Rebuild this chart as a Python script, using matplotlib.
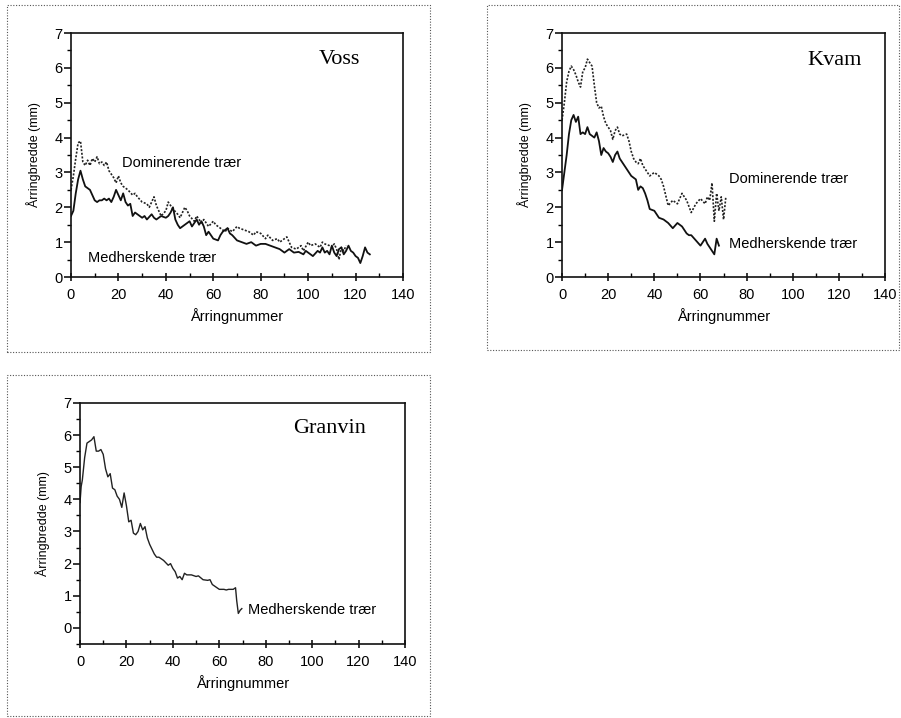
import matplotlib
matplotlib.use("Agg")
import matplotlib.pyplot as plt
from matplotlib.patches import Rectangle
from matplotlib.ticker import MultipleLocator

plt.rcParams['font.family'] = ['Liberation Sans', 'DejaVu Sans']

# --- Voss ---
voss_dom_year = [0, 1, 2, 3, 4, 5, 6, 7, 8, 9, 10, 11, 12, 13, 14, 15, 16, 17, 18, 19,
                 20, 21, 22, 24, 26, 27, 28, 30, 32, 33, 35, 36, 37, 38, 40, 41, 42, 43,
                 45, 46, 48, 49, 50, 52, 53, 55, 56, 58, 60, 61, 63, 65, 66, 68, 70, 71,
                 73, 75, 77, 78, 80, 82, 83, 85, 87, 88, 90, 91, 93, 95, 97, 98, 100, 101,
                 103, 105, 106, 107, 109, 110, 111, 112, 113, 114, 115, 116]
voss_dom = [2.5, 2.9, 3.4, 3.85, 3.9, 3.3, 3.2, 3.35, 3.2, 3.4, 3.3, 3.45, 3.25, 3.3, 3.2,
            3.3, 3.05, 2.95, 2.85, 2.7, 2.9, 2.7, 2.6, 2.5, 2.35, 2.4, 2.3, 2.15, 2.1, 2.0,
            2.3, 2.05, 1.9, 1.75, 1.9, 2.15, 2.05, 1.95, 1.8, 1.7, 2.0, 1.9, 1.75, 1.6,
            1.75, 1.55, 1.65, 1.45, 1.6, 1.5, 1.4, 1.3, 1.4, 1.3, 1.45, 1.4, 1.35, 1.3, 1.2,
            1.3, 1.25, 1.1, 1.2, 1.05, 1.1, 1.0, 1.1, 1.15, 0.85, 0.8, 0.9, 0.75, 1.0, 0.9,
            0.95, 0.85, 1.0, 0.95, 0.9, 0.85, 0.95, 0.8, 0.5, 0.85, 0.75, 0.9]

voss_sup_year = [0, 1, 2, 3, 4, 5, 6, 7, 8, 9, 10, 11, 12, 13, 14, 15, 16, 17, 18, 19, 20,
                 21, 22, 23, 24, 25, 26, 27, 28, 30, 31, 32, 34, 35, 36, 38, 40, 41, 42, 43,
                 44, 45, 46, 47, 48, 50, 51, 52, 53, 54, 55, 56, 57, 58, 59, 60, 62, 63, 64,
                 65, 66, 67, 68, 70, 72, 74, 76, 77, 78, 80, 82, 84, 86, 88, 90, 91, 92, 94,
                 96, 98, 99, 100, 102, 104, 105, 106, 107, 108, 109, 110, 111, 112, 113, 114,
                 115, 116, 117, 118, 119, 120, 121, 122, 123, 124, 125, 126]
voss_sup = [1.75, 1.9, 2.4, 2.8, 3.05, 2.8, 2.6, 2.55, 2.5, 2.35, 2.2, 2.15, 2.2, 2.2, 2.25,
            2.2, 2.25, 2.15, 2.3, 2.5, 2.35, 2.2, 2.4, 2.15, 2.05, 2.1, 1.75, 1.85, 1.8, 1.7,
            1.75, 1.65, 1.8, 1.7, 1.65, 1.75, 1.7, 1.75, 1.85, 2.0, 1.65, 1.5, 1.4, 1.45,
            1.5, 1.6, 1.45, 1.55, 1.65, 1.5, 1.6, 1.45, 1.2, 1.3, 1.2, 1.1, 1.05, 1.2, 1.3,
            1.35, 1.4, 1.25, 1.2, 1.05, 1.0, 0.95, 1.0, 0.95, 0.9, 0.95, 0.95, 0.9, 0.85,
            0.8, 0.7, 0.75, 0.8, 0.7, 0.72, 0.65, 0.75, 0.7, 0.6, 0.75, 0.7, 0.85, 0.7, 0.75,
            0.65, 0.9, 0.7, 0.6, 0.8, 0.85, 0.65, 0.75, 0.9, 0.75, 0.7, 0.6, 0.55, 0.4, 0.6,
            0.85, 0.7, 0.65]

# --- Kvam ---
kvam_dom_year = [0, 1, 2, 3, 4, 5, 6, 7, 8, 9, 10, 11, 12, 13, 14, 15, 16, 17, 18, 19, 20,
                 21, 22, 23, 24, 25, 26, 28, 29, 30, 31, 32, 33, 34, 35, 36, 37, 38, 40, 42,
                 43, 44, 46, 48, 50, 52, 54, 56, 58, 60, 62, 63, 64, 65, 66, 67, 68, 69, 70,
                 71]
kvam_dom = [4.5, 5.0, 5.6, 5.9, 6.05, 5.95, 5.8, 5.6, 5.45, 5.9, 6.0, 6.25, 6.15, 6.05,
            5.5, 5.0, 4.85, 4.9, 4.6, 4.4, 4.3, 4.2, 3.95, 4.2, 4.3, 4.1, 4.05, 4.1, 3.9,
            3.6, 3.4, 3.3, 3.25, 3.4, 3.2, 3.1, 3.0, 2.9, 3.0, 2.9, 2.8, 2.6, 2.05, 2.2,
            2.1, 2.4, 2.2, 1.85, 2.1, 2.25, 2.1, 2.3, 2.2, 2.7, 1.6, 2.4, 1.9, 2.3, 1.65,
            2.3]

kvam_sup_year = [0, 1, 2, 3, 4, 5, 6, 7, 8, 9, 10, 11, 12, 13, 14, 15, 16, 17, 18, 19, 20,
                 21, 22, 23, 24, 25, 26, 28, 30, 32, 33, 34, 35, 36, 37, 38, 40, 42, 44, 46,
                 48, 50, 52, 54, 55, 56, 58, 60, 61, 62, 63, 64, 65, 66, 67, 68]
kvam_sup = [2.5, 3.0, 3.5, 4.1, 4.5, 4.65, 4.45, 4.6, 4.1, 4.15, 4.1, 4.3, 4.1, 4.05,
            4.0, 4.15, 3.9, 3.5, 3.7, 3.6, 3.55, 3.45, 3.3, 3.5, 3.6, 3.4, 3.3, 3.1, 2.9,
            2.8, 2.5, 2.6, 2.55, 2.4, 2.2, 1.95, 1.9, 1.7, 1.65, 1.55, 1.4, 1.55, 1.45,
            1.25, 1.2, 1.2, 1.05, 0.9, 1.0, 1.1, 0.95, 0.85, 0.75, 0.65, 1.1, 0.9]

# --- Granvin ---
granvin_year = [0, 0.5, 1, 2, 3, 4, 5, 6, 7, 8, 9, 10, 11, 12, 13, 14, 15, 16, 17, 18, 19,
                20, 21, 22, 23, 24, 25, 26, 27, 28, 29, 30, 32, 33, 34, 36, 38, 39, 40, 41,
                42, 43, 44, 45, 46, 48, 50, 51, 53, 55, 56, 57, 58, 60, 62, 63, 64, 66, 67,
                67.5, 68.2, 69, 69.7]
granvin = [3.9, 4.4, 4.6, 5.3, 5.75, 5.8, 5.85, 5.95, 5.5, 5.5, 5.55, 5.4, 4.95, 4.7,
           4.8, 4.35, 4.3, 4.1, 4.0, 3.75, 4.2, 3.8, 3.3, 3.35, 2.95, 2.9, 3.0, 3.25, 3.05,
           3.15, 2.8, 2.6, 2.3, 2.2, 2.2, 2.1, 1.95, 2.0, 1.85, 1.75, 1.55, 1.6, 1.5, 1.7,
           1.65, 1.65, 1.6, 1.62, 1.5, 1.48, 1.5, 1.35, 1.3, 1.2, 1.2, 1.18, 1.2, 1.2, 1.25,
           0.85, 0.45, 0.55, 0.6]

XLABEL = 'Årringnummer'
YLABEL = 'Årringbredde (mm)'
LBL_DOM = 'Dominerende trær'
LBL_SUP = 'Medherskende trær'

fig = plt.figure(figsize=(9.01, 7.18), dpi=100)

# dotted frames round each panel (pixel coords, top-left origin)
for (x0, y0, x1, y1) in [(7, 5, 430, 352), (487, 5, 899, 350), (7, 375, 430, 716)]:
    fig.patches.append(Rectangle((x0 / 901, 1 - y1 / 718), (x1 - x0) / 901, (y1 - y0) / 718,
                                 transform=fig.transFigure, fill=False, ec='#555555',
                                 lw=0.8, ls=(0, (1, 1.5))))


def style_axes(ax, ymin):
    ax.set_xlim(0, 140)
    ax.set_ylim(ymin, 7)
    ax.xaxis.set_major_locator(MultipleLocator(20))
    ax.xaxis.set_minor_locator(MultipleLocator(10))
    ax.yaxis.set_major_locator(MultipleLocator(1))
    ax.yaxis.set_minor_locator(MultipleLocator(0.5))
    ax.tick_params(axis='y', which='major', direction='out', length=5, width=1.1,
                   labelsize=10.5, pad=1)
    ax.tick_params(axis='y', which='minor', direction='out', length=3, width=1.0)
    ax.tick_params(axis='x', which='major', direction='inout', length=6, width=1.1,
                   labelsize=10.5, pad=5)
    ax.tick_params(axis='x', which='minor', direction='in', length=3, width=1.0)
    for s in ax.spines.values():
        s.set_linewidth(1.2)
        s.set_color('#111111')
    ax.set_xlabel(XLABEL, fontsize=10.5, labelpad=4)
    ax.set_ylabel(YLABEL, fontsize=9, labelpad=10)


dom_style = dict(color='#222222', lw=1.2, ls=(0, (1.2, 1)))
sup_style = dict(color='#111111', lw=1.3, ls='-')

# Voss
ax1 = fig.add_axes([0.0788, 0.6142, 0.3685, 0.3398])
ax1.plot(voss_dom_year, voss_dom, **dom_style)
ax1.plot(voss_sup_year, voss_sup, **sup_style)
style_axes(ax1, 0)
ax1.text(21.5, 3.27, LBL_DOM, fontsize=10.5, va='center')
ax1.text(7.2, 0.54, LBL_SUP, fontsize=10.5, va='center')
ax1.text(113, 6.25, 'Voss', fontsize=16, va='center', ha='center', family='Liberation Serif')

# Kvam
ax2 = fig.add_axes([0.6238, 0.6142, 0.3585, 0.3398])
ax2.plot(kvam_dom_year, kvam_dom, **dom_style)
ax2.plot(kvam_sup_year, kvam_sup, **sup_style)
style_axes(ax2, 0)
ax2.text(72.3, 2.81, LBL_DOM, fontsize=10.5, va='center')
ax2.text(72.3, 0.95, LBL_SUP, fontsize=10.5, va='center')
ax2.text(118, 6.22, 'Kvam', fontsize=16, va='center', ha='center', family='Liberation Serif')

# Granvin
ax3 = fig.add_axes([0.0888, 0.1031, 0.3607, 0.3357])
ax3.plot(granvin_year, granvin, color='#222222', lw=1.0, ls='-')
style_axes(ax3, -0.5)
ax3.text(72.4, 0.55, LBL_SUP, fontsize=10.5, va='center')
ax3.text(107.3, 6.2, 'Granvin', fontsize=16, va='center', ha='center',
         family='Liberation Serif')

fig.savefig('out.png', dpi=100)
